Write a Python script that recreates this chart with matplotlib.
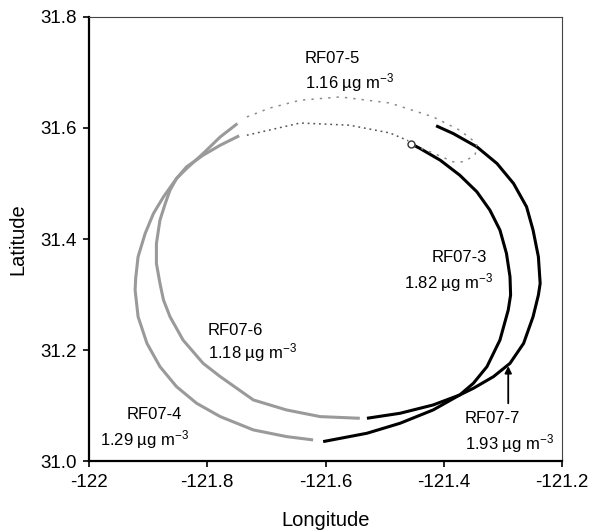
import numpy as np
import matplotlib
matplotlib.use("Agg")
import matplotlib.pyplot as plt

plt.rcParams['font.family'] = ['Liberation Sans', 'DejaVu Sans']
plt.rcParams['mathtext.fontset'] = 'custom'
plt.rcParams['mathtext.rm'] = 'Liberation Sans'
plt.rcParams['mathtext.default'] = 'regular'

# flight tracks (longitude, latitude)
rf07_3_lon = [-121.456, -121.440, -121.406, -121.373, -121.344, -121.322, -121.305, -121.294,
              -121.288, -121.287, -121.291, -121.305, -121.327, -121.350, -121.373, -121.418,
              -121.474, -121.530, -121.604]
rf07_3_lat = [31.572, 31.563, 31.542, 31.515, 31.485, 31.452, 31.416, 31.374,
              31.332, 31.299, 31.272, 31.218, 31.170, 31.140, 31.119, 31.092,
              31.068, 31.050, 31.035]

rf07_4_lon = [-121.621, -121.666, -121.722, -121.778, -121.818, -121.852, -121.880, -121.902,
              -121.917, -121.922, -121.921, -121.917, -121.905, -121.891, -121.874, -121.852,
              -121.835, -121.807, -121.778, -121.746]
rf07_4_lat = [31.038, 31.044, 31.056, 31.080, 31.104, 31.134, 31.170, 31.212,
              31.260, 31.308, 31.330, 31.368, 31.410, 31.446, 31.476, 31.509,
              31.530, 31.551, 31.569, 31.586]

rf07_6_lon = [-121.542, -121.609, -121.666, -121.722, -121.750, -121.778, -121.807, -121.841,
              -121.863, -121.874, -121.880, -121.886, -121.886, -121.880, -121.871, -121.863,
              -121.852, -121.835, -121.807, -121.778, -121.749]
rf07_6_lat = [31.077, 31.080, 31.092, 31.110, 31.131, 31.152, 31.176, 31.218,
              31.260, 31.290, 31.320, 31.356, 31.392, 31.434, 31.464, 31.488,
              31.509, 31.527, 31.554, 31.584, 31.608]

rf07_7_lon = [-121.530, -121.474, -121.418, -121.373, -121.350, -121.316, -121.288, -121.265,
              -121.249, -121.240, -121.237, -121.240, -121.249, -121.260, -121.282, -121.310,
              -121.344, -121.384, -121.413]
rf07_7_lat = [31.077, 31.086, 31.101, 31.119, 31.131, 31.152, 31.176, 31.212,
              31.260, 31.299, 31.320, 31.368, 31.416, 31.458, 31.500, 31.536,
              31.566, 31.590, 31.604]

# RF07-5: two dotted legs
rf07_5a_lon = [-121.733, -121.694, -121.643, -121.575, -121.491, -121.418, -121.373, -121.344,
               -121.347, -121.367, -121.384, -121.418, -121.452]
rf07_5a_lat = [31.620, 31.636, 31.650, 31.656, 31.645, 31.620, 31.596, 31.572,
               31.551, 31.539, 31.539, 31.555, 31.569]
rf07_5b_lon = [-121.733, -121.643, -121.559, -121.491, -121.460]
rf07_5b_lat = [31.587, 31.609, 31.605, 31.591, 31.577]

start_lon, start_lat = -121.456, 31.572

gray = '#9a9a9a'
fig = plt.figure(figsize=(5.91, 5.31), dpi=100)
ax = fig.add_axes([0.1506, 0.1318, 0.8004, 0.8362])

kw = dict(lw=2.2, solid_capstyle='butt', solid_joinstyle='round')
ax.plot(rf07_4_lon, rf07_4_lat, color=gray, **kw)
ax.plot(rf07_6_lon, rf07_6_lat, color=gray, **kw)
ax.plot(rf07_3_lon, rf07_3_lat, color='black', **kw)
ax.plot(rf07_7_lon, rf07_7_lat, color='black', **kw)
ax.plot(rf07_5a_lon, rf07_5a_lat, color='#8a8a8a', lw=1.1, ls=(0, (1.5, 4)))
ax.plot(rf07_5b_lon, rf07_5b_lat, color='#555555', lw=1.1, ls=(0, (1.2, 2.5)))
ax.plot(start_lon, start_lat, 'o', mfc='white', mec='#333333', ms=5, mew=1)

tk = dict(fontsize=12, ha='left', va='center')
ax.text(-121.635, 31.726, 'RF07-5', **tk)
ax.text(-121.635, 31.681, '1.16 µg m$^{-3}$', **tk)
ax.text(-121.420, 31.366, 'RF07-3', **tk)
ax.text(-121.467, 31.321, '1.82 µg m$^{-3}$', **tk)
ax.text(-121.799, 31.236, 'RF07-6', **tk)
ax.text(-121.799, 31.195, '1.18 µg m$^{-3}$', **tk)
ax.text(-121.937, 31.083, 'RF07-4', **tk)
ax.text(-121.981, 31.038, '1.29 µg m$^{-3}$', **tk)
ax.text(-121.364, 31.076, 'RF07-7', **tk)
ax.text(-121.364, 31.032, '1.93 µg m$^{-3}$', **tk)
ax.annotate('', xy=(-121.291, 31.171), xytext=(-121.291, 31.104),
            arrowprops=dict(arrowstyle='-|>', color='black', lw=1.3,
                            mutation_scale=10, shrinkA=0, shrinkB=0))

ax.set_xlim(-122, -121.2)
ax.set_ylim(31.0, 31.8)
ax.set_xticks([-122, -121.8, -121.6, -121.4, -121.2])
ax.set_xticklabels(['-122', '-121.8', '-121.6', '-121.4', '-121.2'])
ax.set_yticks([31.0, 31.2, 31.4, 31.6, 31.8])
ax.set_yticklabels(['31.0', '31.2', '31.4', '31.6', '31.8'])
ax.tick_params(direction='out', length=4, width=1.2, labelsize=13.5, pad=5)
ax.set_xlabel('Longitude', fontsize=14.5, labelpad=15)
ax.set_ylabel('Latitude', fontsize=14.5, labelpad=9)

for s in ['left', 'bottom']:
    ax.spines[s].set_linewidth(1.6)
    ax.spines[s].set_color('black')
for s in ['top', 'right']:
    ax.spines[s].set_linewidth(0.8)
    ax.spines[s].set_color('#444444')

fig.savefig('out.png', dpi=100)
